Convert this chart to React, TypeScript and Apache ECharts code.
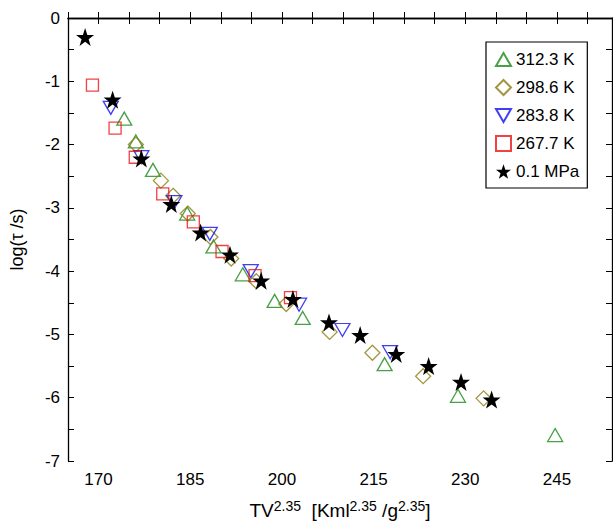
import React, { useEffect, useRef } from "react";
import * as echarts from "echarts";

const s312: number[][] = [[174.2,-1.59],[176.1,-1.95],[178.9,-2.40],[184.5,-3.09],[188.8,-3.61],[193.6,-4.05],[198.8,-4.47],[203.4,-4.74],[216.8,-5.47],[228.8,-5.97],[244.7,-6.59]];
const s298: number[][] = [[176.1,-2.0],[180.2,-2.57],[182.2,-2.81],[184.6,-3.09],[188.3,-3.46],[191.7,-3.80],[195.8,-4.16],[200.7,-4.52],[207.8,-4.96],[214.8,-5.29],[223.1,-5.66],[233.0,-6.01]];
const s283: number[][] = [[172.0,-1.42],[177.0,-2.2],[182.4,-2.91],[188.2,-3.41],[194.9,-4.0],[202.8,-4.53],[209.9,-4.93],[217.7,-5.28]];
const s267: number[][] = [[169.0,-1.06],[172.7,-1.74],[176.0,-2.20],[180.5,-2.78],[185.5,-3.22],[190.2,-3.69],[195.6,-4.07],[201.4,-4.42]];
const s01: number[][] = [[167.8,-0.30],[172.3,-1.29],[177.0,-2.22],[181.9,-2.94],[186.7,-3.39],[191.5,-3.74],[196.6,-4.15],[201.8,-4.44],[207.7,-4.81],[212.8,-5.01],[218.7,-5.31],[224.0,-5.50],[229.3,-5.75],[234.3,-6.03]];

const STAR = "path://M50,0 L61.8,35.5 L97.6,35.5 L68.8,57.4 L79.4,92.7 L50,71.1 L20.6,92.7 L31.2,57.4 L2.4,35.5 L38.2,35.5 Z";
const UP = "path://M50,0 L100,87 L0,87 Z";
const DOWN = "path://M0,0 L100,0 L50,87 Z";
const font = "Arial, Liberation Sans, sans-serif";

export default function App() {
  const ref = useRef<HTMLDivElement>(null);
  useEffect(() => {
    const chart = echarts.init(ref.current!, null, { renderer: "svg" });
    const hollow = (name: string, data: number[][], symbol: string, size: any, color: string) => ({
      name, type: "scatter", data, symbol, symbolSize: size,
      itemStyle: { color: "rgba(255,255,255,0)", borderColor: color, borderWidth: 1.3 },
    });
    const tickFmt = (step: number, base: number) => (v: number) =>
      Math.abs(((v - base) / step) - Math.round((v - base) / step)) < 1e-6 ? String(v) : "";
    const xAxisBase = {
      type: "value", min: 165, max: 254, interval: 5,
      splitLine: { show: false },
      axisLine: { lineStyle: { color: "#000", width: 1.3 } },
      axisTick: { inside: true, length: 6, lineStyle: { color: "#000" } },
    };
    const yAxisBase = {
      type: "value", min: -7, max: 0, interval: 0.5,
      splitLine: { show: false },
      axisLine: { lineStyle: { color: "#000", width: 1.3 } },
      axisTick: { inside: true, length: 6, lineStyle: { color: "#000" } },
    };
    chart.setOption({
      animation: false,
      grid: { left: 68, top: 18, width: 544, height: 450 },
      xAxis: [
        { ...xAxisBase, position: "bottom",
          axisLabel: { color: "#000", fontSize: 17, fontFamily: font, margin: 10, formatter: tickFmt(15, 170), showMaxLabel: false },
          name: "{a|TV}{s|2.35}{a|  [Kml}{s|2.35}{a| /g}{s|2.35}{a|]}",
          nameLocation: "middle", nameGap: 38,
          nameTextStyle: { rich: { a: { fontSize: 19, fontFamily: font, color: "#000", verticalAlign: "bottom" }, s: { fontSize: 14, fontFamily: font, color: "#000", verticalAlign: "top", padding: [0, 0, 7, 0] } } },
        },
        { ...xAxisBase, position: "top", axisLabel: { show: false } },
      ],
      yAxis: [
        { ...yAxisBase, position: "left",
          axisLabel: { color: "#000", fontSize: 17, fontFamily: font, margin: 8, formatter: tickFmt(1, 0) },
          name: "log(τ /s)", nameLocation: "middle", nameGap: 42,
          nameTextStyle: { fontSize: 18, fontFamily: font, color: "#000" },
        },
        { ...yAxisBase, position: "right", axisLabel: { show: false } },
      ],
      legend: {
        orient: "vertical", left: 486, top: 42, width: 110,
        borderColor: "#000", borderWidth: 1.2, padding: [9, 8, 8, 9], itemGap: 11,
        itemWidth: 15, itemHeight: 15,
        textStyle: { fontSize: 17, fontFamily: font, color: "#000" },
        data: ["312.3 K", "298.6 K", "283.8 K", "267.7 K", "0.1 MPa"],
      },
      series: [
        hollow("312.3 K", s312, UP, [15, 13], "#1a8a1a"),
        hollow("298.6 K", s298, "diamond", 15, "#8b7d10"),
        hollow("283.8 K", s283, DOWN, [15, 13], "#1010ee"),
        hollow("267.7 K", s267, "rect", 12, "#ee1111"),
        { name: "0.1 MPa", type: "scatter", data: s01, symbol: STAR, symbolSize: 18, itemStyle: { color: "#000", opacity: 1 } },
      ],
    });
    return () => chart.dispose();
  }, []);
  return <div ref={ref} style={{ width: 613, height: 525, position: "absolute", left: 0, top: 0 }} />;
}
